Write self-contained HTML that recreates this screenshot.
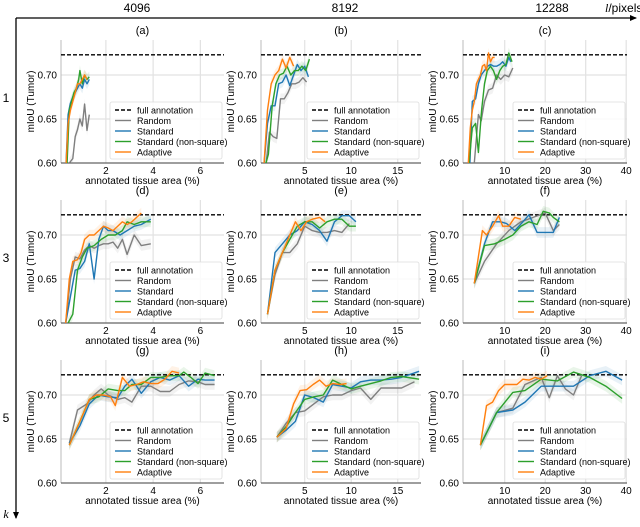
<!DOCTYPE html>
<html><head><meta charset="utf-8">
<style>
html,body{margin:0;padding:0;background:#fff;}
svg{display:block;font-family:"Liberation Sans","DejaVu Sans",sans-serif;}
</style></head>
<body>
<svg id="fig" width="640" height="527" viewBox="0 0 640 527" xmlns="http://www.w3.org/2000/svg">
  <defs>
    <marker id="arr" markerWidth="8" markerHeight="8" refX="6" refY="4" orient="auto" markerUnits="userSpaceOnUse">
      <path d="M0,1 L7,4 L0,7 Z" fill="#000"/>
    </marker>
  </defs>
  <line x1="16" y1="18" x2="636" y2="18" stroke="#000" stroke-width="1.3" marker-end="url(#arr)"/>
  <line x1="16" y1="18" x2="16" y2="518" stroke="#000" stroke-width="1.3" marker-end="url(#arr)"/>
  <text x="137" y="12" font-size="12" text-anchor="middle">4096</text>
  <text x="345" y="12" font-size="12" text-anchor="middle">8192</text>
  <text x="552" y="12" font-size="12" text-anchor="middle">12288</text>
  <text x="605" y="12" font-size="12"><tspan font-style="italic" font-family="Liberation Serif, serif">l</tspan>/pixels</text>
  <text x="6" y="102" font-size="12" text-anchor="middle">1</text>
  <text x="6" y="262" font-size="12" text-anchor="middle">3</text>
  <text x="6" y="422" font-size="12" text-anchor="middle">5</text>
  <text x="6" y="518" font-size="12" font-style="italic" font-family="Liberation Serif, serif" text-anchor="middle">k</text>
</svg>
<script>
const seriesNames = ["Random","Standard","Standard (non-square)","Adaptive"];
const seriesColors = ["#7f7f7f","#1f77b4","#2ca02c","#ff7f0e"];
const panelLabels = ["(a)","(b)","(c)","(d)","(e)","(f)","(g)","(h)","(i)"];
const fullAnnotation = 0.723;
const yTicks = [0.60,0.65,0.70];
const yDomain = [0.60,0.7398];
const colXDomains = [[0.1,7.0],[0.3,17.5],[-0.3,40.2]];
const colXTicks = [[2,4,6],[5,10,15],[10,20,30,40]];
const bandHalfWidth = 0.006;

// Panel (a)
const aRandomX=[0.45,0.6,0.7,0.8,0.9,1.0,1.1,1.2,1.3];
const aRandomY=[0.600,0.605,0.63,0.638,0.65,0.642,0.667,0.637,0.655];
const aStandardX=[0.3,0.4,0.5,0.6,0.7,0.8,0.9,1.0,1.1,1.2,1.3];
const aStandardY=[0.59,0.655,0.668,0.675,0.68,0.685,0.69,0.685,0.695,0.69,0.695];
const aNonSqX=[0.35,0.45,0.55,0.65,0.75,0.85,0.9,1.0,1.1,1.2,1.3];
const aNonSqY=[0.595,0.66,0.67,0.68,0.685,0.695,0.705,0.69,0.70,0.695,0.698];
const aAdaptiveX=[0.3,0.4,0.5,0.6,0.7,0.8,0.9,1.0,1.1,1.2];
const aAdaptiveY=[0.59,0.645,0.66,0.67,0.68,0.69,0.69,0.695,0.70,0.695];
// Panel (b)
const bRandomX=[0.8,1.2,1.6,2.0,2.4,2.8,3.2,3.6,4.0,4.4,4.8,5.2];
const bRandomY=[0.595,0.635,0.63,0.628,0.673,0.673,0.68,0.69,0.69,0.692,0.697,0.692];
const bStandardX=[0.6,1.0,1.4,1.8,2.2,2.6,3.0,3.4,3.8,4.2,4.6,5.0,5.4];
const bStandardY=[0.595,0.645,0.665,0.665,0.69,0.692,0.70,0.688,0.70,0.712,0.705,0.71,0.698];
const bNonSqX=[0.7,1.1,1.5,1.9,2.3,2.7,3.1,3.5,3.9,4.3,4.7,5.1,5.5];
const bNonSqY=[0.595,0.61,0.665,0.69,0.70,0.702,0.71,0.70,0.705,0.705,0.71,0.705,0.718];
const bAdaptiveX=[0.6,1.0,1.4,1.8,2.2,2.6,3.0,3.4,3.8];
const bAdaptiveY=[0.595,0.66,0.69,0.70,0.705,0.718,0.708,0.72,0.71];
// Panel (c)
const cRandomX=[2.5,3.5,4.2,5,6,7,8,9,10,11,12];
const cRandomY=[0.60,0.655,0.648,0.67,0.683,0.685,0.70,0.695,0.70,0.698,0.708];
const cStandardX=[1.4,2,2.8,3.5,4.2,5,5.8,6.5,7.3,8,8.8,9.5,10.3,11,11.5];
const cStandardY=[0.60,0.67,0.673,0.69,0.70,0.705,0.71,0.712,0.71,0.71,0.712,0.715,0.71,0.72,0.715];
const cNonSqX=[1.2,2,2.8,3.5,4.3,5,5.7,6.5,7.2,8,8.8,9.5,10.3,11,11.8];
const cNonSqY=[0.60,0.64,0.645,0.612,0.66,0.69,0.705,0.71,0.705,0.695,0.705,0.71,0.712,0.725,0.715];
const cAdaptiveX=[1,1.5,2,2.5,3,3.5,4,4.5,5,5.5,6,6.5,7,7.5];
const cAdaptiveY=[0.60,0.64,0.66,0.67,0.69,0.695,0.70,0.71,0.712,0.705,0.725,0.715,0.72,0.72];
// Panel (d)
const dRandomX=[0.3,0.5,0.7,0.9,1.1,1.3,1.5,1.7,1.9,2.1,2.3,2.5,2.7,2.9,3.2,3.5,3.9];
const dRandomY=[0.60,0.65,0.675,0.673,0.683,0.688,0.685,0.688,0.69,0.69,0.692,0.685,0.695,0.678,0.70,0.688,0.69];
const dStandardX=[0.3,0.5,0.7,0.9,1.1,1.3,1.5,1.7,1.9,2.1,2.3,2.6,2.9,3.2,3.5,3.9];
const dStandardY=[0.60,0.63,0.66,0.662,0.67,0.69,0.65,0.695,0.71,0.705,0.705,0.70,0.705,0.71,0.712,0.718];
const dNonSqX=[0.4,0.6,0.8,1.0,1.2,1.5,1.8,2.1,2.4,2.7,2.9,3.2,3.5,3.9];
const dNonSqY=[0.60,0.61,0.66,0.675,0.685,0.688,0.695,0.70,0.70,0.705,0.715,0.712,0.715,0.715];
const dAdaptiveX=[0.3,0.45,0.6,0.8,0.95,1.1,1.3,1.5,1.7,1.9,2.1,2.3,2.5,2.7,2.9,3.1,3.3,3.5];
const dAdaptiveY=[0.60,0.65,0.67,0.672,0.68,0.695,0.70,0.70,0.705,0.71,0.708,0.705,0.71,0.715,0.712,0.715,0.72,0.725];
// Panel (e)
const eRandomX=[1,1.8,2.6,3.4,4.2,5,5.8,6.6,7.4,8.2,9,9.8];
const eRandomY=[0.61,0.655,0.68,0.68,0.69,0.71,0.705,0.703,0.703,0.705,0.703,0.713];
const eStandardX=[1,1.8,2.6,3.4,4.2,5,5.8,6.6,7.4,8.2,9,9.8,10.5];
const eStandardY=[0.61,0.68,0.69,0.70,0.705,0.715,0.712,0.705,0.693,0.715,0.722,0.722,0.715];
const eNonSqX=[1,1.8,2.6,3.4,4.2,5,5.8,6.6,7.4,8.2,9,9.8,10.5];
const eNonSqY=[0.61,0.66,0.68,0.695,0.71,0.715,0.715,0.708,0.715,0.718,0.718,0.71,0.71];
const eAdaptiveX=[1,1.8,2.6,3.4,4.0,4.6,5.2,5.8,6.6,7.2];
const eAdaptiveY=[0.61,0.66,0.68,0.70,0.715,0.705,0.715,0.718,0.72,0.715];
// Panel (f)
const fRandomX=[2.5,5,8,11,14,17,20,22,23.5];
const fRandomY=[0.645,0.67,0.69,0.705,0.715,0.72,0.725,0.705,0.712];
const fStandardX=[2.5,5,7,9,10.5,12.5,14.5,16,18,20,22,23.5];
const fStandardY=[0.645,0.69,0.715,0.715,0.713,0.705,0.715,0.723,0.703,0.703,0.703,0.72];
const fNonSqX=[2.5,5,7.5,10,12,14,16,18,19.5,21,22,23.5];
const fNonSqY=[0.645,0.688,0.69,0.695,0.70,0.71,0.715,0.712,0.727,0.725,0.72,0.715];
const fAdaptiveX=[2.5,4.5,5.5,7,8.5,9.5,11,12.5,14];
const fAdaptiveY=[0.645,0.705,0.70,0.71,0.722,0.71,0.71,0.72,0.718];
// Panel (g)
const gRandomX=[0.45,0.8,1.2,1.5,1.8,2.1,2.5,2.8,3.1,3.5,3.9,4.3,4.7,5.1,5.5,5.9,6.2,6.6];
const gRandomY=[0.645,0.683,0.69,0.70,0.707,0.70,0.695,0.697,0.692,0.71,0.71,0.704,0.704,0.712,0.716,0.715,0.712,0.712];
const gStandardX=[0.45,0.9,1.3,1.7,2.1,2.5,2.8,3.1,3.5,3.9,4.3,4.7,5.1,5.5,5.9,6.2,6.6];
const gStandardY=[0.645,0.665,0.69,0.70,0.698,0.697,0.71,0.718,0.702,0.715,0.72,0.717,0.722,0.71,0.718,0.717,0.717];
const gNonSqX=[0.45,0.9,1.3,1.7,2.1,2.5,2.8,3.1,3.5,3.9,4.3,4.7,5.1,5.3,5.6,5.9,6.2,6.6];
const gNonSqY=[0.643,0.67,0.695,0.698,0.707,0.705,0.705,0.712,0.712,0.72,0.72,0.722,0.722,0.726,0.72,0.713,0.725,0.722];
const gAdaptiveX=[0.45,0.9,1.3,1.6,1.9,2.2,2.4,2.7,3.0,3.3,3.6,3.9,4.2,4.5,4.8,5.1];
const gAdaptiveY=[0.643,0.67,0.695,0.70,0.70,0.698,0.688,0.72,0.71,0.712,0.715,0.713,0.713,0.718,0.727,0.725];
// Panel (h)
const hRandomX=[2.0,3.0,4.0,5.0,6.0,7.0,8.0,9.0,10.0,11,12.1,13.2,14.3,15.4,16.8];
const hRandomY=[0.652,0.668,0.68,0.682,0.69,0.698,0.70,0.70,0.705,0.708,0.695,0.708,0.708,0.708,0.715];
const hStandardX=[2.0,3.0,4.0,5.0,6.0,7.0,8.0,9.0,10.0,11,12.1,13.2,14.3,15.4,17.3];
const hStandardY=[0.652,0.66,0.67,0.70,0.697,0.692,0.712,0.71,0.708,0.715,0.717,0.717,0.718,0.72,0.727];
const hNonSqX=[2.0,3.0,4.0,5.0,6.0,7.0,8.0,9.0,10.0,11,12.1,13.2,14.3,15.4,17.3];
const hNonSqY=[0.652,0.664,0.68,0.695,0.698,0.70,0.717,0.712,0.707,0.71,0.713,0.716,0.72,0.721,0.718];
const hAdaptiveX=[2.0,3.0,3.8,4.5,5.2,5.9,6.6,7.3,8.0,8.8,9.5];
const hAdaptiveY=[0.652,0.662,0.69,0.705,0.706,0.712,0.717,0.71,0.713,0.712,0.713];
// Panel (i)
const iRandomX=[4,8,12,15,19,21,23,25,27,29];
const iRandomY=[0.643,0.68,0.685,0.712,0.72,0.697,0.722,0.707,0.70,0.722];
const iStandardX=[4,8,12,15,19,23,27,31,35,39];
const iStandardY=[0.643,0.68,0.683,0.692,0.71,0.71,0.71,0.722,0.727,0.717];
const iNonSqX=[4,8,12,15,19,23,27,31,35,39];
const iNonSqY=[0.643,0.68,0.703,0.705,0.718,0.716,0.726,0.72,0.71,0.696];
const iAdaptiveX=[4,5.5,7,8.5,10,11.5,13,14.5,16,17.5,19,20.5];
const iAdaptiveY=[0.643,0.688,0.692,0.705,0.712,0.712,0.712,0.718,0.717,0.72,0.718,0.722];

const panelSeriesX=[
 [aRandomX,aStandardX,aNonSqX,aAdaptiveX],[bRandomX,bStandardX,bNonSqX,bAdaptiveX],[cRandomX,cStandardX,cNonSqX,cAdaptiveX],
 [dRandomX,dStandardX,dNonSqX,dAdaptiveX],[eRandomX,eStandardX,eNonSqX,eAdaptiveX],[fRandomX,fStandardX,fNonSqX,fAdaptiveX],
 [gRandomX,gStandardX,gNonSqX,gAdaptiveX],[hRandomX,hStandardX,hNonSqX,hAdaptiveX],[iRandomX,iStandardX,iNonSqX,iAdaptiveX]];
const panelSeriesY=[
 [aRandomY,aStandardY,aNonSqY,aAdaptiveY],[bRandomY,bStandardY,bNonSqY,bAdaptiveY],[cRandomY,cStandardY,cNonSqY,cAdaptiveY],
 [dRandomY,dStandardY,dNonSqY,dAdaptiveY],[eRandomY,eStandardY,eNonSqY,eAdaptiveY],[fRandomY,fStandardY,fNonSqY,fAdaptiveY],
 [gRandomY,gStandardY,gNonSqY,gAdaptiveY],[hRandomY,hStandardY,hNonSqY,hAdaptiveY],[iRandomY,iStandardY,iNonSqY,iAdaptiveY]];

const NS="http://www.w3.org/2000/svg";
const svg=document.getElementById('fig');
const colLeft=[61,261,463], colRight=[224,421,627];
const rowTop=[40,200,360], rowBottom=[163,323,483];
function mk(tag,attrs,parent){const e=document.createElementNS(NS,tag);for(const k in attrs)e.setAttribute(k,attrs[k]);(parent||svg).appendChild(e);return e;}

for(let p=0;p<9;p++){
  const r=Math.floor(p/3), c=p%3;
  const L=colLeft[c],R=colRight[c],T=rowTop[r],B=rowBottom[r];
  const xd=colXDomains[c];
  const sx=v=>L+(v-xd[0])/(xd[1]-xd[0])*(R-L);
  const sy=v=>B-(v-yDomain[0])/(yDomain[1]-yDomain[0])*(B-T);
  const g=mk('g',{});
  
  
  const cp=mk('clipPath',{id:'clip'+p},g);
  mk('rect',{x:L,y:T,width:R-L,height:B-T},cp);
  colXTicks[c].forEach(t=>{
    const gl=mk('line',{x1:sx(t),x2:sx(t),y1:T,y2:B,stroke:'#e2e2e2','stroke-width':1.2},g);
    
    
    const tl=mk('text',{x:sx(t),y:B+11,'font-size':10,'text-anchor':'middle'},g);
    tl.textContent=t;
    
    
  });
  yTicks.forEach(t=>{
    const gl=mk('line',{x1:L,x2:R,y1:sy(t),y2:sy(t),stroke:'#e2e2e2','stroke-width':1.2},g);
    
    
    const tl=mk('text',{x:L-4,y:sy(t)+3.5,'font-size':10,'text-anchor':'end'},g);
    tl.textContent=t.toFixed(2);
    
    
  });
  const sp1=mk('line',{x1:L,x2:L,y1:T,y2:B,stroke:'#bbb','stroke-width':1},g);
  
  
  const sp2=mk('line',{x1:L,x2:R,y1:B,y2:B,stroke:'#444','stroke-width':1},g);
  
  
  const ttl=mk('text',{x:(L+R)/2,y:T-6,'font-size':11,'text-anchor':'middle'},g);
  ttl.textContent=panelLabels[p];
  
  
  const yl=mk('text',{x:0,y:0,'font-size':10,'text-anchor':'middle',transform:`translate(${L-27},${(T+B)/2}) rotate(-90)`},g);
  yl.textContent='mIoU (Tumor)';
  
  
  const xl=mk('text',{x:(L+R)/2,y:B+21,'font-size':10,'text-anchor':'middle'},g);
  xl.textContent='annotated tissue area (%)';
  
  
  const pg=mk('g',{'clip-path':`url(#clip${p})`},g);
  for(let s=0;s<4;s++){
    const X=panelSeriesX[p][s],Y=panelSeriesY[p][s];
    let d='';
    X.forEach((x,i)=>{d+=(i?'L':'M')+sx(x).toFixed(1)+','+sy(Y[i]+bandHalfWidth).toFixed(1);});
    for(let i=X.length-1;i>=0;i--)d+='L'+sx(X[i]).toFixed(1)+','+sy(Y[i]-bandHalfWidth).toFixed(1);
    const b=mk('path',{d:d+'Z',fill:seriesColors[s],'fill-opacity':0.1,stroke:'none'},pg);
    
    
  }
  const fa=mk('line',{x1:L,x2:R,y1:sy(fullAnnotation),y2:sy(fullAnnotation),stroke:'#000','stroke-width':1.4,'stroke-dasharray':'4,2'},pg);
  
  
  for(let s=0;s<4;s++){
    const X=panelSeriesX[p][s],Y=panelSeriesY[p][s];
    const pts=X.map((x,i)=>sx(x).toFixed(1)+','+sy(Y[i]).toFixed(1)).join(' ');
    const pl=mk('polyline',{points:pts,fill:'none',stroke:seriesColors[s],'stroke-width':1.4,'stroke-linejoin':'round'},pg);
    
    
  }
  const lg=mk('g',{},g);
  
  
  const lx=R-114, ly=B-61;
  mk('rect',{x:lx,y:ly,width:112,height:57,rx:2,fill:'#fff','fill-opacity':0.85,stroke:'#ddd','stroke-width':0.8},lg);
  const labels=['full annotation'].concat(seriesNames);
  const cols=['#000'].concat(seriesColors);
  labels.forEach((t,i)=>{
    const yy=ly+8+i*10.5;
    const ln=mk('line',{x1:lx+5,x2:lx+21,y1:yy,y2:yy,stroke:cols[i],'stroke-width':1.4},lg);
    if(i===0)ln.setAttribute('stroke-dasharray','4,2');
    const tx=mk('text',{x:lx+27,y:yy+3.3,'font-size':9},lg);
    tx.textContent=t;
    
    
  });
}
</script>
</body></html>
